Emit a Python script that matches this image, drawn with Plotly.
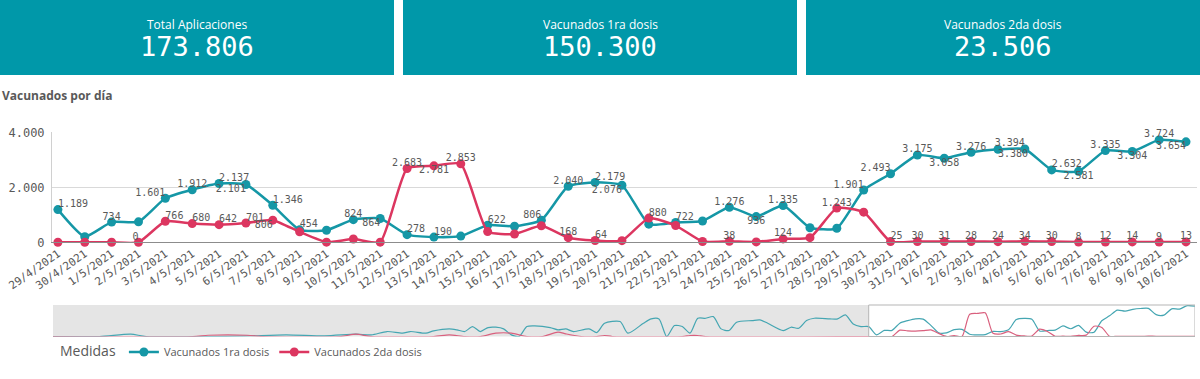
import plotly.graph_objects as go
import pandas as pd

# ---------------- data ----------------
kpi_titles = ["Total Aplicaciones", "Vacunados 1ra dosis", "Vacunados 2da dosis"]
kpi_values = [173806, 150300, 23506]

dates = ["29/4/2021", "30/4/2021"] + [f"{d}/5/2021" for d in range(1, 32)] + [f"{d}/6/2021" for d in range(1, 11)]

dosis1 = [1189, 205, 734, 745, 1601, 1912, 2137, 2101, 1346, 454, 440, 824, 864, 278, 190, 225,
          622, 585, 806, 2040, 2179, 2076, 660, 722, 775, 1276, 936, 1335, 530, 510, 1901, 2493,
          3175, 3058, 3276, 3380, 3394, 2632, 2581, 3335, 3304, 3724, 3654]
dosis2 = [0, 0, 0, 0, 766, 680, 642, 701, 806, 380, 5, 120, 5, 2683, 2781, 2853,
          390, 300, 600, 168, 64, 60, 880, 610, 30, 38, 15, 124, 170, 1243, 1095, 25,
          30, 31, 28, 24, 34, 30, 8, 12, 14, 9, 13]

# overview (mini chart) for the earlier period, day offsets from 14/1/2021
overview_start = "2021-01-14"
early1_days = [0, 6, 10, 12, 24, 30, 35, 39, 41, 43, 45, 46, 48, 49, 51, 52, 53, 54, 55, 56, 57, 58, 59,
               60, 61, 62, 64, 65, 66, 67, 69, 70, 71, 73, 74, 76, 77, 78, 79, 80, 81, 82, 83, 84, 85,
               86, 87, 88, 90, 91, 92, 94, 95, 96, 97, 98, 100, 101, 102, 103, 104]
early1_vals = [0, 0, 280, 0, 40, 200, 80, 280, 200, 600, 400, 600, 400, 680, 920, 800, 600, 1200, 600,
               1080, 1120, 920, 200, 0, 1200, 1280, 1080, 800, 920, 600, 920, 480, 1600, 1800, 400,
               1600, 2120, 2120, 0, 1320, 1200, 400, 2200, 2200, 2400, 920, 720, 1720, 1920, 2000,
               1600, 720, 1120, 1000, 1920, 2200, 2120, 2120, 2600, 1520, 1200]
early2_days = [0, 18, 20, 25, 27, 37, 39, 41, 49, 51, 53, 55, 57, 59, 61, 63, 65, 66, 68, 70, 71, 72,
               81, 82, 83, 84, 104]
early2_vals = [0, 0, 150, 150, 0, 0, 280, 0, 0, 200, 0, 0, 400, 400, 0, 0, 520, 320, 0, 0, 120, 0,
               0, 120, 120, 0, 0]

# label placement (style)
pos1 = {0: "top right", 2: "top center", 4: "top left", 5: "top center", 6: "top right", 7: "bottom left",
        8: "top right", 9: "top right", 11: "top center", 12: "bottom left", 13: "top right", 14: "top right",
        16: "top right", 18: "top left", 19: "top center", 20: "top right", 21: "bottom left", 23: "top right",
        25: "top center", 26: "bottom center", 27: "top center", 30: "top left", 31: "top left",
        32: "top center", 33: "bottom center", 34: "top center", 35: "bottom right", 36: "top left",
        37: "top right", 38: "bottom center", 39: "top center", 40: "bottom center", 41: "top center",
        42: "bottom left"}
pos2 = {3: "top left", 4: "top right", 5: "top right", 6: "top right", 7: "top right", 8: "bottom left",
        13: "top center", 14: "bottom center", 15: "top center", 19: "top center", 20: "top right",
        22: "top right", 25: "top center", 27: "top center", 29: "top center", 31: "top right"}
for i in range(32, 43):
    pos2[i] = "top center"

TEAL = "#1597a6"
RED = "#dc3660"
GRAY = "#595959"
BOX = "#0098a9"
MONO = "DejaVu Sans Mono"
SANS = "Open Sans"

def fmt(v):
    return f"{v:,}".replace(",", ".")

W, H = 1200, 379
def py(px):
    return 1 - px / H
def pxx(px):
    return px / W

fig = go.Figure()

# main lines
fig.add_trace(go.Scatter(x=dates, y=dosis1, mode="lines+markers", name="Vacunados 1ra dosis",
                         line=dict(color=TEAL, width=2.5, shape="spline", smoothing=0.5),
                         marker=dict(color=TEAL, size=9), xaxis="x", yaxis="y", cliponaxis=False))
fig.add_trace(go.Scatter(x=dates, y=dosis2, mode="lines+markers", name="Vacunados 2da dosis",
                         line=dict(color=RED, width=2.5, shape="spline", smoothing=0.5),
                         marker=dict(color=RED, size=9), xaxis="x", yaxis="y", cliponaxis=False))

# data labels
for series, pos in ((dosis1, pos1), (dosis2, pos2)):
    idx = sorted(pos)
    fig.add_trace(go.Scatter(x=[dates[i] for i in idx], y=[series[i] for i in idx], mode="text",
                             text=[fmt(series[i]) for i in idx], textposition=[pos[i] for i in idx],
                             textfont=dict(family=MONO, size=10, color=GRAY), showlegend=False,
                             hoverinfo="skip", xaxis="x", yaxis="y", cliponaxis=False))

# overview mini chart
start = pd.Timestamp(overview_start)
main_dt = pd.to_datetime(dates, format="%d/%m/%Y")
ov1_x = list(start + pd.to_timedelta(early1_days, unit="D")) + list(main_dt)
ov2_x = list(start + pd.to_timedelta(early2_days, unit="D")) + list(main_dt)
fig.add_trace(go.Scatter(x=ov1_x, y=early1_vals + dosis1, mode="lines", showlegend=False, hoverinfo="skip",
                         line=dict(color="#45a6b2", width=1.2, shape="spline", smoothing=0.7),
                         xaxis="x2", yaxis="y2"))
fig.add_trace(go.Scatter(x=ov2_x, y=early2_vals + dosis2, mode="lines", showlegend=False, hoverinfo="skip",
                         line=dict(color="#d9607e", width=1.2, shape="spline", smoothing=0.7),
                         xaxis="x2", yaxis="y2"))

shapes = []
# KPI boxes
box_x = [(0, 394), (403, 797), (806, 1200)]
annotations = []
for (x0, x1), t, v in zip(box_x, kpi_titles, kpi_values):
    shapes.append(dict(type="rect", xref="paper", yref="paper", x0=pxx(x0), x1=pxx(x1), y0=py(75), y1=py(0),
                       fillcolor=BOX, line=dict(width=0), layer="below"))
    cx = pxx((x0 + x1) / 2)
    annotations.append(dict(xref="paper", yref="paper", x=cx, y=py(24), text=t, showarrow=False,
                            font=dict(family=SANS, size=12, color="white"), xanchor="center", yanchor="middle"))
    annotations.append(dict(xref="paper", yref="paper", x=cx, y=py(47), text=fmt(v), showarrow=False,
                            font=dict(family=MONO, size=27, color="white"), xanchor="center", yanchor="middle"))

annotations.append(dict(xref="paper", yref="paper", x=0, y=py(95), text="<b>Vacunados por día</b>",
                        showarrow=False, font=dict(family=SANS, size=12, color=GRAY),
                        xanchor="left", yanchor="middle"))

# overview selection shading
shapes.append(dict(type="rect", xref="x2", yref="y2 domain", x0=start, x1=main_dt[0], y0=0, y1=1,
                   fillcolor="#e5e5e5", line=dict(width=0), layer="below"))
shapes.append(dict(type="rect", xref="x2", yref="y2 domain", x0=main_dt[0], x1=main_dt[-1], y0=0, y1=1,
                   fillcolor="rgba(0,0,0,0)", line=dict(color="#b5b5b5", width=1), layer="above"))

fig.update_layout(
    width=W, height=H, margin=dict(l=0, r=0, t=0, b=0, autoexpand=False),
    paper_bgcolor="white", plot_bgcolor="white",
    separators=",.",
    font=dict(family=SANS, color=GRAY),
    shapes=shapes, annotations=annotations,
    xaxis=dict(domain=[pxx(52), pxx(1197)], type="category", range=[-0.22, 42.41],
               tickangle=-35, tickfont=dict(family=MONO, size=11, color=GRAY),
               showgrid=False, showline=True, linecolor="#8c8c8c", linewidth=1, ticks="",
               anchor="y", fixedrange=True, automargin=False),
    yaxis=dict(domain=[py(242.3), py(132.3)], range=[0, 4000], tickvals=[0, 2000, 4000],
               tickformat=",d", tickfont=dict(family=MONO, size=12, color=GRAY),
               showgrid=True, gridcolor="#d9d9d9", gridwidth=1, zeroline=False,
               showline=True, linecolor="#d0d0d0", ticks="", ticklabelstandoff=4, anchor="x",
               automargin=False),
    xaxis2=dict(domain=[pxx(53), pxx(1195)], type="date", range=[start, main_dt[-1]],
                showticklabels=False, showgrid=False, zeroline=False, showline=False, anchor="y2",
                automargin=False),
    yaxis2=dict(domain=[py(336.5), py(305)], range=[0, 3800], showticklabels=False, showgrid=False,
                zeroline=False, showline=False, anchor="x2", automargin=False),
    legend=dict(orientation="h", x=pxx(58), y=py(352), xanchor="left", yanchor="middle",
                title=dict(text="Medidas", font=dict(family=SANS, size=14, color=GRAY)),
                font=dict(family=SANS, size=11, color=GRAY), itemwidth=30, bgcolor="rgba(0,0,0,0)"),
    showlegend=True,
)

fig.write_html("out.html", config={"displayModeBar": False},
               post_script="document.body.style.margin='0';document.body.style.overflow='hidden';")
